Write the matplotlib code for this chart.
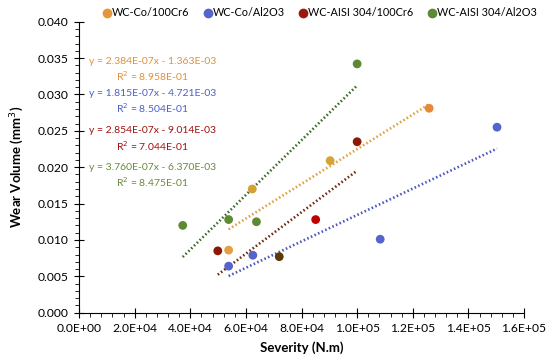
import matplotlib
matplotlib.use("Agg")
import matplotlib.pyplot as plt
import numpy as np
from matplotlib.ticker import MultipleLocator, FuncFormatter, FormatStrFormatter

plt.rcParams['font.family'] = ['Lato', 'DejaVu Sans']

# ---- data ----
series_names = ["WC-Co/100Cr6", "WC-Co/Al2O3", "WC-AISI 304/100Cr6", "WC-AISI 304/Al2O3"]

x_co_cr6 = [53.8e3, 62.3e3, 90.3e3, 125.9e3]
y_co_cr6 = [0.0086, 0.0170, 0.0209, 0.0281]

x_co_al = [53.8e3, 62.5e3, 108.3e3, 150.3e3]
y_co_al = [0.0064, 0.0079, 0.0101, 0.0255]

x_ss_cr6 = [49.9e3, 72.0e3, 85.1e3, 100.0e3]
y_ss_cr6 = [0.0085, 0.0077, 0.0128, 0.0235]

x_ss_al = [37.3e3, 53.8e3, 63.8e3, 100.0e3]
y_ss_al = [0.0120, 0.0128, 0.0125, 0.0342]

slopes = [2.384e-07, 1.815e-07, 2.854e-07, 3.760e-07]
intercepts = [-1.363e-03, -4.721e-03, -9.014e-03, -6.370e-03]
r2_values = [8.958e-01, 8.504e-01, 7.044e-01, 8.475e-01]

xs = [x_co_cr6, x_co_al, x_ss_cr6, x_ss_al]
ys = [y_co_cr6, y_co_al, y_ss_cr6, y_ss_al]

# ---- style ----
series_colors = ["#E5963C", "#5563CC", "#9A1A0A", "#5E8A36"]
point_colors = [
    ["#E3A040", "#D2A232", "#D4A535", "#E8883A"],
    ["#5563CC", "#5563CC", "#5563CC", "#5563CC"],
    ["#8B1A05", "#5A3A05", "#C00000", "#8B1A05"],
    ["#5E8A36", "#5E8A36", "#5E8A36", "#5E8A36"],
]
line_colors = ["#E0A040", "#4A58C0", "#6E2A10", "#3E6A2C"]
text_colors = ["#E0903A", "#4A5FC8", "#A01010", "#6A8A3A"]
text_y = [[0.0345, 0.0325], [0.0301, 0.0281], [0.0250, 0.0229], [0.0200, 0.0179]]
text_x = 26.5e3

fig = plt.figure(figsize=(5.5, 3.58), dpi=100)
ax = fig.add_axes([79/550, 1-312.7/358, 445/550, (312.7-21.7)/358])

for i in range(4):
    ax.scatter(xs[i], ys[i], s=40, c=point_colors[i], zorder=3, linewidths=0)
    xl = np.array([min(xs[i]), max(xs[i])])
    ax.plot(xl, slopes[i]*xl + intercepts[i], color=line_colors[i], lw=1.9,
            linestyle=(0, (0.6, 0.9)), zorder=2)
    eq = "y = %.3Ex - %.3E" % (slopes[i], abs(intercepts[i]))
    ax.text(text_x, text_y[i][0], eq, color=text_colors[i], fontsize=7.5,
            ha='center', va='center')
    ax.text(text_x, text_y[i][1], "R$^2$ = %.3E" % r2_values[i], color=text_colors[i],
            fontsize=7.5, ha='center', va='center')

ax.set_xlim(0, 1.6e5)
ax.set_ylim(0, 0.040)
ax.xaxis.set_major_locator(MultipleLocator(2e4))
ax.xaxis.set_minor_locator(MultipleLocator(4e3))
ax.yaxis.set_major_locator(MultipleLocator(0.005))
ax.yaxis.set_minor_locator(MultipleLocator(0.001))

ax.xaxis.set_major_formatter(FuncFormatter(lambda v, pos: "%.1E" % v))
ax.yaxis.set_major_formatter(FormatStrFormatter("%.3f"))

for sp in ['top', 'right']:
    ax.spines[sp].set_visible(False)
for sp in ['left', 'bottom']:
    ax.spines[sp].set_linewidth(0.8)
ax.tick_params(which='major', direction='inout', length=7, width=0.8, labelsize=8.7,
               colors='black', pad=4)
ax.tick_params(which='minor', direction='out', length=3, width=0.6)

ax.set_xlabel("Severity (N.m)", fontsize=9.5, fontweight='bold', labelpad=5)
ax.set_ylabel("Wear Volume (mm$^3$)", fontsize=9.5, fontweight='bold', labelpad=8)

handles = [plt.Line2D([], [], marker='o', linestyle='none', color=series_colors[i],
                      markersize=6) for i in range(4)]
fig.legend(handles, series_names, loc='center left', bbox_to_anchor=(103/550, 1-13/358),
           ncol=4, frameon=False, fontsize=7.8, handletextpad=0.15, columnspacing=1.3,
           handlelength=0.7, borderaxespad=0, borderpad=0)

fig.savefig("out.png", dpi=100)
